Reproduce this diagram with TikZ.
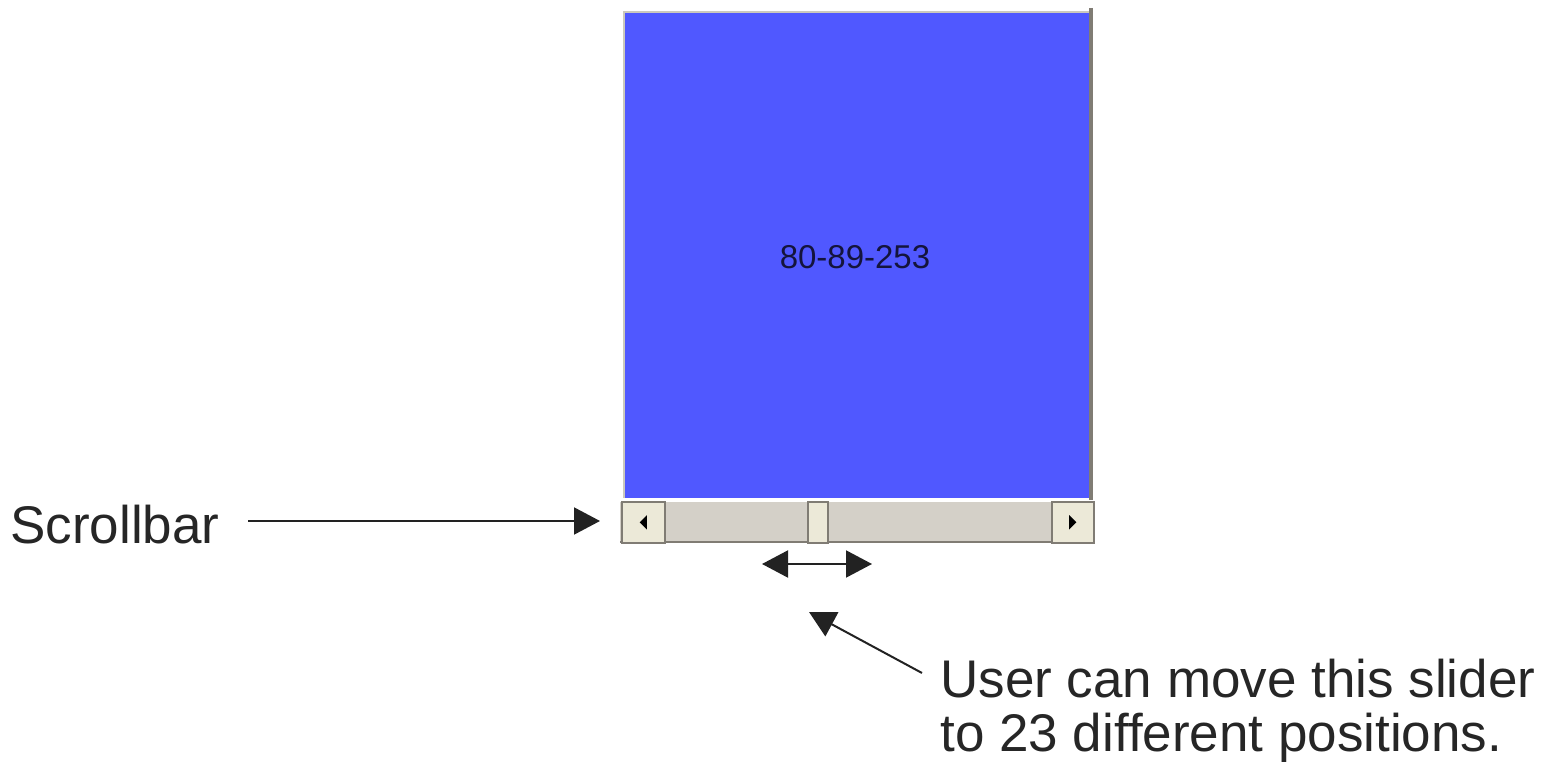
\documentclass[tikz,border=0pt]{standalone}
\usepackage{fontspec}
\setmainfont{Liberation Sans}
\usetikzlibrary{arrows.meta}
\definecolor{panelblue}{RGB}{80,88,255}
\definecolor{track}{RGB}{212,208,200}
\definecolor{btn}{RGB}{236,233,216}
\definecolor{shadow}{RGB}{128,124,116}
\definecolor{ink}{RGB}{34,34,34}
\definecolor{txt}{RGB}{38,38,38}
\tikzset{
  arr/.style={draw=ink, line width=1pt, -{Triangle[length=13pt,width=13.5pt]}},
  darr/.style={draw=ink, line width=1pt, {Triangle[length=13pt,width=13.5pt]}-{Triangle[length=13pt,width=13.5pt]}},
  lbl/.style={font=\fontsize{26.5}{27}\selectfont, text=txt, inner sep=0pt},
  button/.style={fill=btn, draw=shadow, line width=0.8pt},
}
\begin{document}
\begin{tikzpicture}[x=0.5pt,y=-0.5pt]
\useasboundingbox (0,0) rectangle (1549,775);
% panel
\fill[panelblue] (624,12) rectangle (1090,498);
\draw[line width=0.8pt, color=btn!70!gray] (624,498) -- (624,12) -- (1090,12);
\draw[line width=2pt, color=shadow] (1091,8) -- (1091,500);
\node[font=\fontsize{16.5}{18}\selectfont, text={rgb,255:red,20;green,20;blue,60}, inner sep=0pt] (num) at (855,257) {80-89-253};
% scrollbar
\fill[track] (620,500) rectangle (1094,542);
\draw[color=shadow, line width=1pt] (620,541.5) -- (1094,541.5);
\draw[color=white, line width=1pt] (620,500.5) -- (1094,500.5);
\node[button, minimum width=21.5pt, minimum height=20.5pt, inner sep=0pt, anchor=north west] (lb) at (621,501) {};
\node[button, minimum width=10pt, minimum height=20.5pt, inner sep=0pt, anchor=north west] (thumb) at (807,501) {};
\node[button, minimum width=21pt, minimum height=20.5pt, inner sep=0pt, anchor=north west] (rb) at (1051,501) {};
\fill[black] ([xshift=-1.8pt]lb.center) -- ++(3.6pt,-3.6pt) -- ++(0,7.2pt) -- cycle;
\fill[black] ([xshift=1.8pt]rb.center) -- ++(-3.6pt,-3.6pt) -- ++(0,7.2pt) -- cycle;
% double arrow
\coordinate (dl) at (762,564);
\coordinate (dr) at (872,564);
\draw[darr] (dl) -- (dr);
% scrollbar label
\node[lbl, anchor=base west] (scroll) at (10,544) {Scrollbar};
\coordinate (sbstart) at (248,521);
\coordinate (sbtip) at (600,521);
\draw[arr] (sbstart) -- (sbtip);
% user label
\node[lbl, anchor=north west, align=left] (user) at (940,659) {User can move this slider\\to 23 different positions.};
\coordinate (ustart) at (922,673);
\coordinate (utip) at (809,612);
\draw[arr] (ustart) -- (utip);
\end{tikzpicture}
\end{document}
